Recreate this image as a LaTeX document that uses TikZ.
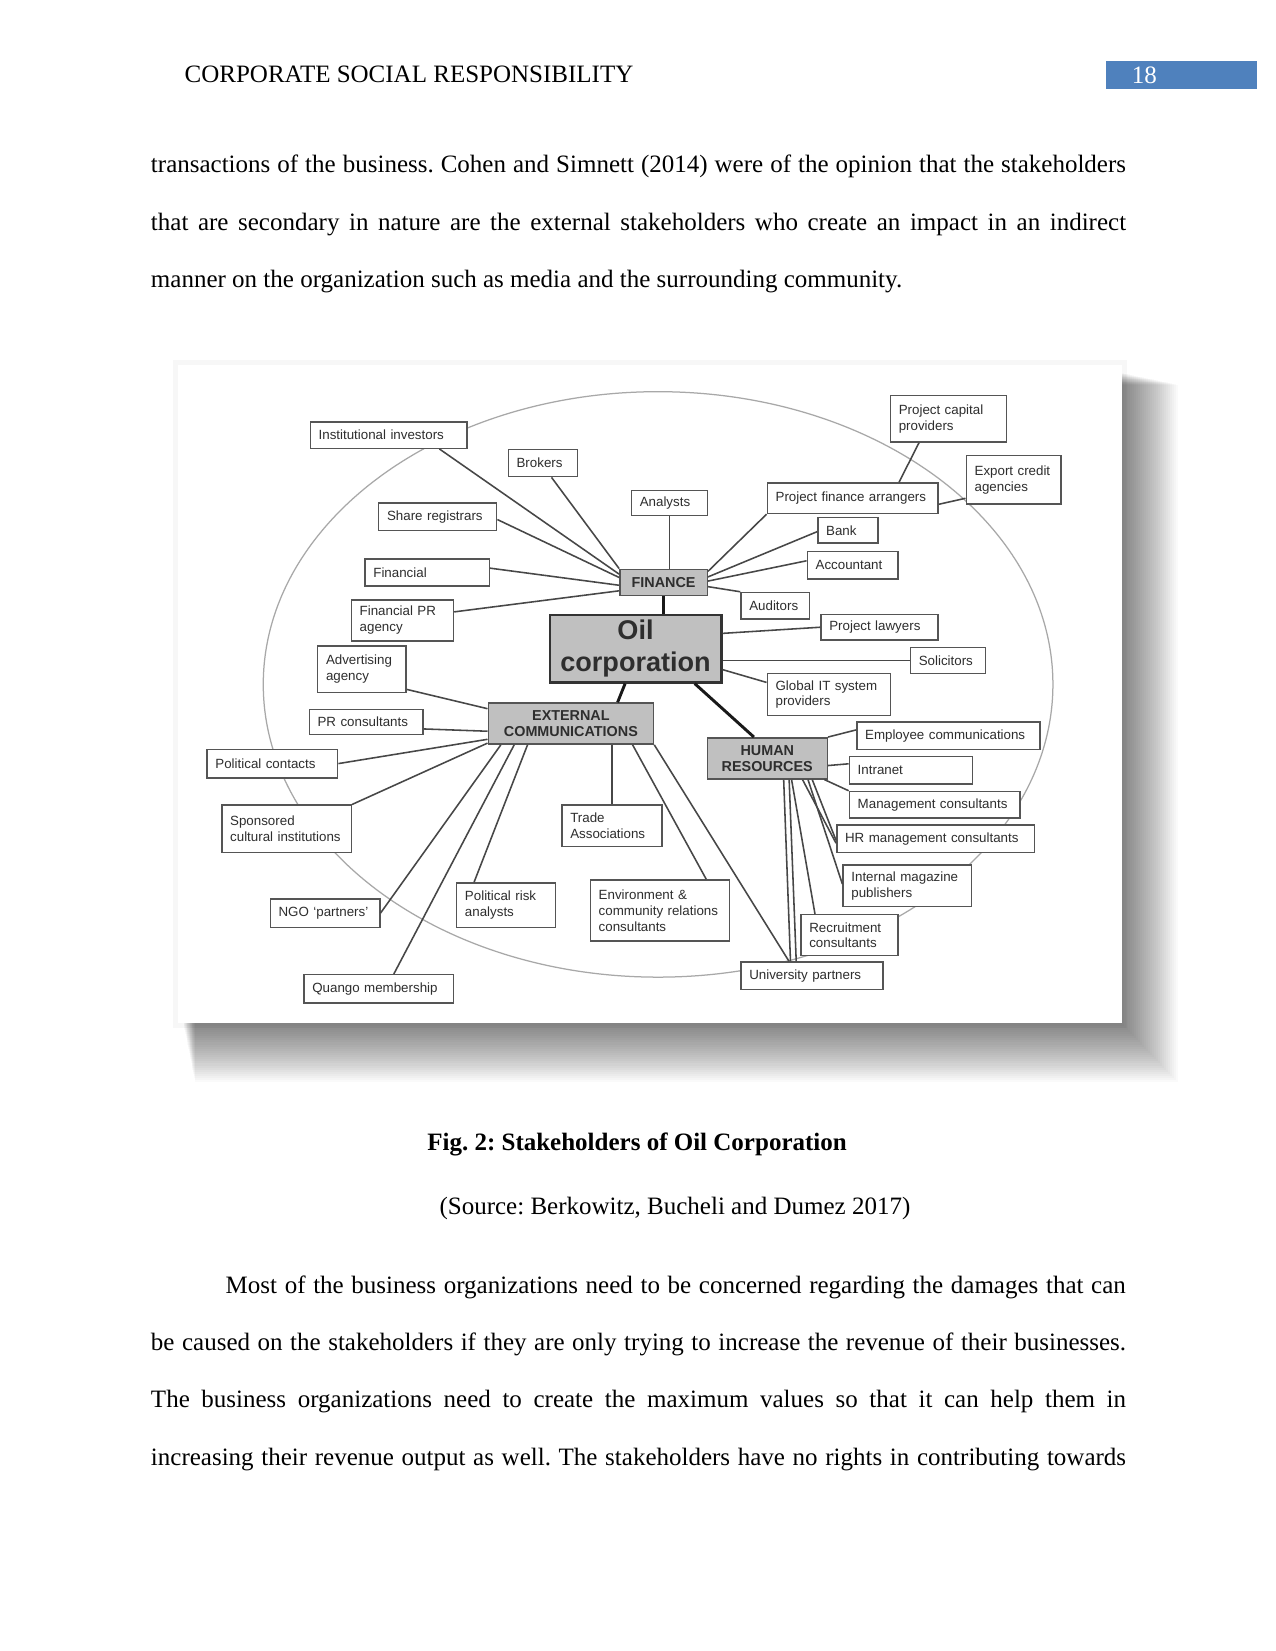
\documentclass[tikz,border=0pt]{standalone}
\usepackage{fontspec}
\setmainfont{Liberation Serif}
\newfontfamily\diagfont{Liberation Sans}
\usepackage{tikz}
\usetikzlibrary{calc, positioning}

\definecolor{pnblue}{RGB}{79,129,189}
\definecolor{hubgray}{RGB}{192,192,192}
\definecolor{edgegray}{RGB}{85,85,85}
\definecolor{ringgray}{RGB}{168,168,168}

\begin{document}
\begin{tikzpicture}[
  x=0.50537pt, y=-0.50537pt,
  bodyline/.style={anchor=base west, inner sep=0pt,
    font=\fontsize{12}{14}\selectfont\frenchspacing},
  stake/.style={draw=edgegray, line width=0.7pt, fill=white, anchor=north west,
    inner xsep=4pt, inner ysep=1pt, align=left, text=black!82,
    font=\diagfont\fontsize{6.4}{7.6}\selectfont},
  hub/.style={stake, fill=hubgray, align=center,
    font=\diagfont\bfseries\fontsize{6.9}{7.6}\selectfont},
  oilbox/.style={hub, draw=black!80, line width=1.1pt,
    font=\diagfont\bfseries\fontsize{13}{15.2}\selectfont},
  wh/.style 2 args={/utils/exec={\pgfmathsetlengthmacro\bw{#1*0.50537pt-8pt}%
      \pgfmathsetlengthmacro\bh{#2*0.50537pt}},
    text width=\bw, minimum height=\bh},
  link/.style={draw=black!72, line width=0.75pt},
  spine/.style={draw=black!90, line width=1.4pt},
]
  % page
  \fill[white] (0,0) rectangle (1211,1568);
  \useasboundingbox (0,0) rectangle (1211,1568);

  % running head
  \node[bodyline] (head) at (175,78.5) {CORPORATE SOCIAL RESPONSIBILITY};
  \node[anchor=north west, fill=pnblue, text=white, inner xsep=0pt, inner ysep=0pt,
    minimum height=13.4pt, text width=72.3pt, align=left,
    font=\fontsize{12}{14}\selectfont] (pgnum) at (1050,58) {\hspace*{12.4pt}18};

  % text before the figure
  \node[bodyline] (p1a) at (143,164) {\makebox[468pt][s]{transactions of the business. Cohen and Simnett (2014) were of the opinion that the stakeholders}};
  \node[bodyline] (p1b) at (143,218.5) {\makebox[468pt][s]{that are secondary in nature are the external stakeholders who create an impact in an indirect}};
  \node[bodyline] (p1c) at (143,273) {manner on the organization such as media and the surrounding community.};

  % figure frame with its shadow
  \fill[black, opacity=0.03] (164,342) rectangle (1070,976);
  \foreach \s in {1,...,28}
    \fill[black, opacity=0.019] (174+0.4*\s,354+0.4*\s) rectangle (1066+1.9*\s,972+2*\s);
  \fill[white] (169,347) rectangle (1066,972);

  % ring of stakeholders
  \draw[ringgray, line width=0.6pt] (625,650) ellipse [x radius=189.5pt, y radius=140.5pt];

  % finance side
  \node[stake, wh={110}{44}] (pcp) at (845,375) {Project capital\\providers};
  \node[stake, wh={90}{46}] (eca) at (917,432) {Export credit\\agencies};
  \node[stake, wh={149}{25}] (inst) at (294,400) {Institutional investors};
  \node[stake, wh={66}{26}] (brok) at (482,426) {Brokers};
  \node[stake, wh={72}{24}] (anal) at (599,465) {Analysts};
  \node[stake, wh={162}{29}] (pfa) at (728,458) {Project finance arrangers};
  \node[stake, wh={112}{26}] (share) at (359,477) {Share registrars};
  \node[stake, wh={57}{24}] (bank) at (776,491) {Bank};
  \node[stake, wh={86}{26}] (acct) at (766,523) {Accountant};
  \node[stake, wh={118}{26}] (finl) at (346,530) {Financial};
  \node[hub, wh={83}{25}] (fin) at (588,540) {FINANCE};
  \node[stake, wh={65}{25}] (aud) at (703,562) {Auditors};
  \node[stake, wh={97}{39}] (finpr) at (333,569) {Financial PR\\agency};
  \node[stake, wh={111}{24}] (plaw) at (779,583) {Project lawyers};

  % centre
  \node[oilbox, wh={163}{64}] (oil) at (521,583) {Oil\\corporation};
  \node[stake, wh={71}{25}] (sol) at (864,614) {Solicitors};
  \node[stake, wh={117}{40}] (git) at (728,639) {Global IT system\\providers};

  % external communications side
  \node[stake, wh={84}{44}] (adv) at (301,613) {Advertising\\agency};
  \node[stake, wh={108}{24}] (prc) at (293,673) {PR consultants};
  \node[hub, wh={157}{39}] (ext) at (463,667) {EXTERNAL\\COMMUNICATIONS};
  \node[stake, wh={124}{27}] (polc) at (196,711) {Political contacts};
  \node[stake, wh={123}{45}] (spons) at (210,764) {Sponsored\\cultural institutions};
  \node[stake, wh={95}{39}] (trade) at (533,764) {Trade\\Associations};
  \node[stake, wh={132}{58}] (env) at (560,835) {Environment \&\\community relations\\consultants};
  \node[stake, wh={94}{42}] (pra) at (433,838) {Political risk\\analysts};
  \node[stake, wh={104}{27}] (ngo) at (256,853) {NGO \textquoteleft partners\textquoteright};
  \node[stake, wh={142}{27}] (quango) at (288,925) {Quango membership};

  % human resources side
  \node[stake, wh={174}{26}] (empc) at (813,685) {Employee communications};
  \node[hub, wh={114}{39}] (hr) at (671,700) {HUMAN\\RESOURCES};
  \node[stake, wh={117}{26}] (intra) at (806,718) {Intranet};
  \node[stake, wh={162}{25}] (mgmt) at (806,751) {Management consultants};
  \node[stake, wh={188}{26}] (hrmc) at (794,783) {HR management consultants};
  \node[stake, wh={122}{39}] (imp) at (800,821) {Internal magazine\\publishers};
  \node[stake, wh={92}{39}] (recr) at (760,868) {Recruitment\\consultants};
  \node[stake, wh={135}{26}] (univ) at (703,913) {University partners};

  % links to FINANCE
  \draw[link] ($(inst.south west)!0.82!(inst.south east)$) -- ($(fin.north west)!0.2!(fin.south west)$);
  \draw[link] ($(brok.south west)!0.62!(brok.south east)$) -- (fin.north west);
  \draw[link] (anal.south) -- (anal.south |- fin.north);
  \draw[link] ($(share.north east)!0.6!(share.south east)$) -- ($(fin.north west)!0.32!(fin.south west)$);
  \draw[link] ($(finl.north east)!0.35!(finl.south east)$) -- ($(fin.north west)!0.6!(fin.south west)$);
  \draw[link] ($(finpr.north east)!0.3!(finpr.south east)$) -- ($(fin.north west)!0.8!(fin.south west)$);
  \draw[link] (pfa.south west) -- ($(fin.north east)!0.1!(fin.south east)$);
  \draw[link] ($(bank.north west)!0.55!(bank.south west)$) -- ($(fin.north east)!0.3!(fin.south east)$);
  \draw[link] ($(acct.north west)!0.35!(acct.south west)$) -- ($(fin.north east)!0.45!(fin.south east)$);
  \draw[link] (aud.north west) -- ($(fin.north east)!0.65!(fin.south east)$);
  \draw[link] ($(pcp.south west)!0.25!(pcp.south east)$) -- ($(pfa.north west)!0.77!(pfa.north east)$);
  \draw[link] ($(eca.north west)!0.87!(eca.south west)$) -- ($(pfa.north east)!0.69!(pfa.south east)$);

  % main branches
  \draw[spine] (fin.south) -- (fin.south |- oil.north);
  \draw[spine] ($(oil.south west)!0.44!(oil.south east)$) -- ($(ext.north west)!0.78!(ext.north east)$);
  \draw[spine] ($(oil.south west)!0.84!(oil.south east)$) -- ($(hr.north west)!0.39!(hr.north east)$);

  % links to Oil corporation
  \draw[link] ($(oil.north east)!0.28!(oil.south east)$) -- (plaw.west);
  \draw[link] (sol.west -| oil.east) -- (sol.west);
  \draw[link] ($(oil.north east)!0.8!(oil.south east)$) -- ($(git.north west)!0.22!(git.south west)$);

  % links to EXTERNAL COMMUNICATIONS
  \draw[link] ($(adv.north east)!0.92!(adv.south east)$) -- ($(ext.north west)!0.15!(ext.south west)$);
  \draw[link] ($(prc.north east)!0.76!(prc.south east)$) -- ($(ext.north west)!0.68!(ext.south west)$);
  \draw[link] (polc.east) -- ($(ext.north west)!0.87!(ext.south west)$);
  \draw[link] (spons.north east) -- ($(ext.north west)!0.96!(ext.south west)$);
  \draw[link] (ngo.east) -- ($(ext.south west)!0.08!(ext.south east)$);
  \draw[link] ($(quango.north west)!0.6!(quango.north east)$) -- ($(ext.south west)!0.16!(ext.south east)$);
  \draw[link] ($(pra.north west)!0.18!(pra.north east)$) -- ($(ext.south west)!0.24!(ext.south east)$);
  \draw[link] (trade.north) -- (trade.north |- ext.south);
  \draw[link] ($(env.north west)!0.83!(env.north east)$) -- ($(ext.south west)!0.87!(ext.south east)$);
  \draw[link] (ext.south east) -- ($(univ.north west)!0.34!(univ.north east)$);

  % links to HUMAN RESOURCES
  \draw[link] (hr.north east) -- ($(empc.north west)!0.3!(empc.south west)$);
  \draw[link] ($(hr.north east)!0.67!(hr.south east)$) -- ($(intra.north west)!0.27!(intra.south west)$);
  \draw[link] ($(hr.south west)!0.97!(hr.south east)$) -- (mgmt.north west);
  \draw[link] ($(hr.south west)!0.79!(hr.south east)$) -- ($(hrmc.north west)!0.65!(hrmc.south west)$);
  \draw[link] ($(hr.south west)!0.87!(hr.south east)$) -- ($(hrmc.north west)!0.55!(hrmc.south west)$);
  \draw[link] ($(hr.south west)!0.835!(hr.south east)$) -- ($(imp.north west)!0.46!(imp.south west)$);
  \draw[link] ($(hr.south west)!0.70!(hr.south east)$) -- ($(recr.north west)!0.15!(recr.north east)$);
  \draw[link] ($(hr.south west)!0.635!(hr.south east)$) -- ($(univ.north west)!0.35!(univ.north east)$);
  \draw[link] ($(hr.south west)!0.68!(hr.south east)$) -- ($(univ.north west)!0.39!(univ.north east)$);

  % caption and source
  \node[anchor=base, inner sep=0pt, font=\bfseries\fontsize{12}{14}\selectfont\frenchspacing] (figcap) at (605,1093)
    {Fig. 2: Stakeholders of Oil Corporation};
  \node[anchor=base, inner sep=0pt, font=\fontsize{12}{14}\selectfont\frenchspacing] (figsrc) at (641,1153)
    {(Source: Berkowitz, Bucheli and Dumez 2017)};

  % text after the figure
  \node[bodyline] (p2a) at (214,1228) {\makebox[432pt][s]{Most of the business organizations need to be concerned regarding the damages that can}};
  \node[bodyline] (p2b) at (143,1283) {\makebox[468pt][s]{be caused on the stakeholders if they are only trying to increase the revenue of their businesses.}};
  \node[bodyline] (p2c) at (143,1337) {\makebox[468pt][s]{The business organizations need to create the maximum values so that it can help them in}};
  \node[bodyline] (p2d) at (143,1392) {\makebox[468pt][s]{increasing their revenue output as well. The stakeholders have no rights in contributing towards}};

\end{tikzpicture}
\end{document}
